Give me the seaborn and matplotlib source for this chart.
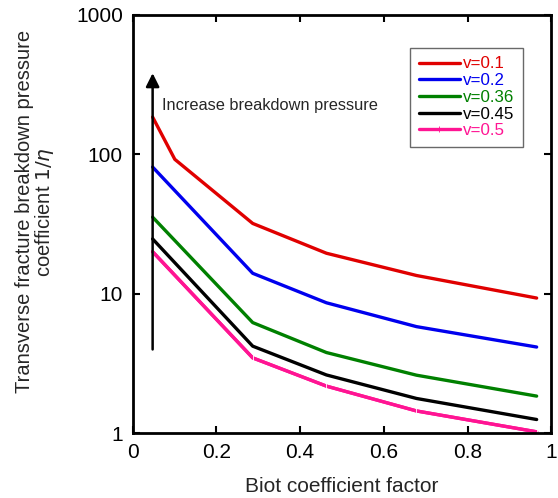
import numpy as np
import pandas as pd
import matplotlib
matplotlib.use("Agg")
import matplotlib.pyplot as plt
import seaborn as sns

# Data
biot = [0.048, 0.101, 0.287, 0.463, 0.678, 0.965]
v01 = [185, 92, 31.9, 19.5, 13.5, 9.3]
biot_b = [0.048, 0.287, 0.463, 0.678, 0.965]
v02 = [81, 14.0, 8.6, 5.8, 4.14]
v036 = [35.4, 6.2, 3.78, 2.6, 1.84]
v045 = [24.7, 4.2, 2.61, 1.77, 1.25]
v05 = [20.0, 3.46, 2.17, 1.44, 1.02]
labels = ["v=0.1", "v=0.2", "v=0.36", "v=0.45", "v=0.5"]
colors = ["#e00000", "#0000ee", "#008000", "#000000", "#ff1493"]

frames = [pd.DataFrame({"x": biot, "y": v01, "series": labels[0]})]
for lab, vals in zip(labels[1:], [v02, v036, v045, v05]):
    frames.append(pd.DataFrame({"x": biot_b, "y": vals, "series": lab}))
df = pd.concat(frames, ignore_index=True)

sns.set_style("ticks")
plt.rcParams['font.family'] = ['Liberation Sans', 'DejaVu Sans']

fig = plt.figure(figsize=(5.58, 4.98), dpi=100)
ax = fig.add_axes([0.2375, 0.1305, 0.7505, 0.8395])

sns.lineplot(data=df, x="x", y="y", hue="series", palette=dict(zip(labels, colors)),
             linewidth=2.4, ax=ax, legend=False, sort=False, estimator=None)
# pink series has small vertical tick markers
sns.lineplot(x=biot_b, y=v05, color=colors[4], linewidth=2.4, marker="|",
             markersize=5, markeredgewidth=0.6, ax=ax, legend=False)

ax.set_yscale("log")
ax.set_xlim(0, 1)
ax.set_ylim(1, 1000)
ax.set_xticks([0, 0.2, 0.4, 0.6, 0.8, 1])
ax.set_xticklabels(["0", "0.2", "0.4", "0.6", "0.8", "1"])
ax.set_yticks([1, 10, 100, 1000])
ax.set_yticklabels(["1", "10", "100", "1000"])
ax.yaxis.set_minor_locator(matplotlib.ticker.NullLocator())
ax.tick_params(direction="in", length=5, width=1.5, top=True, right=True,
               labelsize=15, colors="black")
ax.tick_params(axis="x", pad=7)
ax.tick_params(axis="y", pad=7)
for s in ax.spines.values():
    s.set_linewidth(2)
    s.set_color("black")

ax.set_xlabel("Biot coefficient factor", fontsize=15, labelpad=11)
ax.set_ylabel("Transverse fracture breakdown pressure\ncoefficient $1/\\eta$", fontsize=14.5,
              linespacing=0.95)
ax.yaxis.set_label_coords(-0.183, 0.529)

# arrow
ax.annotate("", xy=(0.048, 400), xytext=(0.048, 3.8),
            arrowprops=dict(arrowstyle="-|>", color="black", lw=1.8,
                            mutation_scale=20))
ax.text(0.07, 225, "Increase breakdown pressure", fontsize=11.8, va="center", ha="left")

handles = [matplotlib.lines.Line2D([], [], color=c, lw=2.4) for c in colors[:4]]
handles.append(matplotlib.lines.Line2D([], [], color=colors[4], lw=2.4, marker="|",
                                       markersize=5, markeredgewidth=0.6, markevery=[1]))
leg = ax.legend(handles, labels, loc="upper right", bbox_to_anchor=(0.932, 0.921),
                borderaxespad=0, fontsize=12.2, frameon=True, fancybox=False,
                handlelength=2.4, handletextpad=0.2, labelspacing=0.1, borderpad=0.5)
leg.get_frame().set_edgecolor("#444444")
leg.get_frame().set_linewidth(1)
for t, c in zip(leg.get_texts(), colors):
    t.set_color(c)

fig.savefig("out.png", dpi=100)
